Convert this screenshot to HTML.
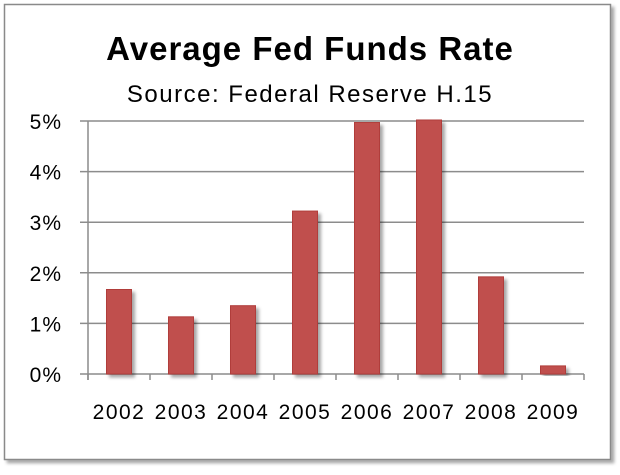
<!DOCTYPE html>
<html><head><meta charset="utf-8"><style>
body{margin:0;background:#fff;width:620px;height:470px;overflow:hidden;font-family:"Liberation Sans",Arial,sans-serif}
</style></head><body>
<svg width="620" height="470">
<defs><filter id="sh" x="-20%" y="-20%" width="160%" height="140%"><feDropShadow dx="3" dy="3" stdDeviation="1.5" flood-color="#000" flood-opacity="0.35"/></filter></defs>
<rect x="4.5" y="4.5" width="606" height="455" fill="#fff" stroke="#8a8a8a" stroke-width="1.5" filter="url(#sh)"/>
<text x="310" y="60" text-anchor="middle" font-size="33" font-weight="bold" letter-spacing="1" fill="#000">Average Fed Funds Rate</text>
<text x="310" y="102" text-anchor="middle" font-size="24" letter-spacing="1.5" fill="#000">Source: Federal Reserve H.15</text>
<g id="g"></g>
</svg>
<script>
const categories=["2002","2003","2004","2005","2006","2007","2008","2009"];
const values=[1.67,1.13,1.35,3.22,4.97,5.02,1.92,0.16];
const yTicks=[0,1,2,3,4,5];
const yTickLabels=["0%","1%","2%","3%","4%","5%"];
const x0=88,x1=584,yb=374,yt=121,ymax=5;
const ns="http://www.w3.org/2000/svg",g=document.getElementById("g");
const bw=(x1-x0)/categories.length;
const Y=v=>yb-(v/ymax)*(yb-yt);
const X=i=>x0+bw*i+bw/2;
function mk(t,a){const e=document.createElementNS(ns,t);for(const k in a)e.setAttribute(k,a[k]);g.appendChild(e);return e;}
yTicks.forEach((t,i)=>{
 const l=mk("line",{x1:80,x2:x1,y1:Y(t),y2:Y(t),stroke:"#8c8c8c","stroke-width":1.5});
 
 
 const tx=mk("text",{x:62,y:Y(t)+8,"text-anchor":"end","font-size":21,"letter-spacing":1,fill:"#000"});
 tx.textContent=yTickLabels[i];
 
 
});
const ax=mk("line",{x1:x0,x2:x0,y1:yt,y2:yb+6,stroke:"#8c8c8c","stroke-width":1.5});


for(let i=0;i<=categories.length;i++){
 const t=mk("line",{x1:x0+bw*i,x2:x0+bw*i,y1:yb,y2:yb+6,stroke:"#8c8c8c","stroke-width":1.5});
 
 
}
categories.forEach((c,i)=>{
 const b=mk("rect",{x:X(i)-12.5,y:Y(values[i]),width:25,height:yb-Y(values[i]),fill:"#c0504d",stroke:"#b03c3a","stroke-width":1,filter:"url(#sh)"});
 
 
 const tx=mk("text",{x:X(i),y:419,"text-anchor":"middle","font-size":21,"letter-spacing":1.5,fill:"#000"});
 tx.textContent=c;
 
 
});
</script>
</body></html>
